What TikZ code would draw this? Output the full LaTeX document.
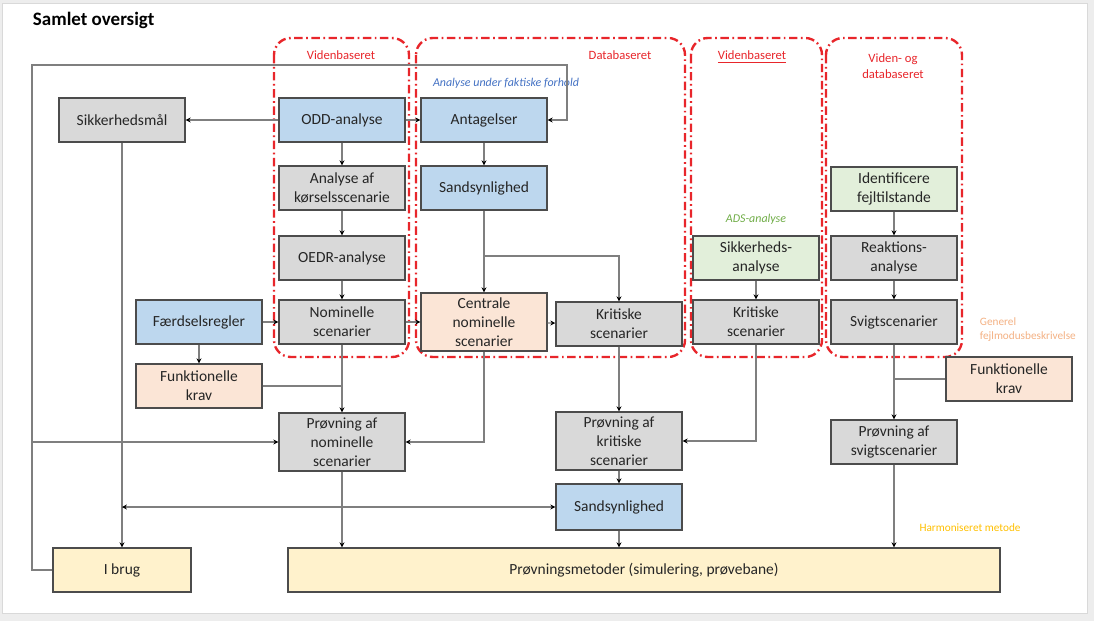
\documentclass[tikz,border=0pt]{standalone}
\usepackage{fontspec}
\setmainfont{Carlito}
\usepackage{xcolor}
\usepackage{tikz}
\usetikzlibrary{arrows.meta}

\definecolor{boxgray}{HTML}{D9D9D9}
\definecolor{boxblue}{HTML}{BDD7EE}
\definecolor{boxgreen}{HTML}{E2EFDA}
\definecolor{boxpeach}{HTML}{FBE5D6}
\definecolor{boxyellow}{HTML}{FFF2CC}
\definecolor{framered}{HTML}{E8262B}
\definecolor{linegray}{HTML}{7F7F7F}
\definecolor{noteblue}{HTML}{4472C4}
\definecolor{notegreen}{HTML}{70AD47}
\definecolor{noteorange}{HTML}{F4B183}
\definecolor{noteyellow}{HTML}{FFC000}

\tikzset{
  box/.style={draw=black!70, line width=1pt, minimum width=3.15cm,
    minimum height=1.1cm, inner sep=1pt, align=center,
    font=\fontsize{11}{13.5}\selectfont, text=black!85},
  tallbox/.style={box, minimum height=1.45cm},
  line/.style={draw=linegray, line width=0.9pt},
  frame/.style={draw=framered, line width=1.7pt, rounded corners=12pt,
    dash pattern=on 6pt off 2.5pt on 1.2pt off 2.5pt},
  lbl/.style={font=\fontsize{9}{11}\selectfont, text=framered, align=center},
  note/.style={font=\itshape\fontsize{8.5}{10}\selectfont}
}

\begin{document}
\begin{tikzpicture}[x=0.025cm, y=-0.025cm, >={Stealth[length=3.5pt,width=3.5pt,black]}]
  \useasboundingbox (0,0) rectangle (1094,621);
  \fill[black!7] (0,0) rectangle (1094,621);
  \filldraw[fill=white, draw=black!15] (2,3) rectangle (1087,613);

  \node[anchor=west, font=\bfseries\fontsize{13.5}{16}\selectfont] (title) at (28,20) {Samlet oversigt};

  % grupper
  \draw[frame] (274,38) rectangle (409,357);
  \draw[frame] (416,38) rectangle (685,357);
  \draw[frame] (691,38) rectangle (822,357);
  \draw[frame] (826,38) rectangle (962,357);
  \node[lbl] (vb1) at (341,55) {Videnbaseret};
  \node[lbl] (db) at (620,55) {Databaseret};
  \node[lbl] (vb2) at (752,57) {\underline{Videnbaseret}};
  \node[lbl] (vdb) at (893,66) {Viden- og\\databaseret};
  \node[note, text=noteblue] (faktisk) at (506,83) {Analyse under faktiske forhold};
  \node[note, text=notegreen] (ads) at (756,219) {ADS-analyse};
  \node[note, font=\fontsize{8}{10}\selectfont, text=noteorange, align=left, anchor=west] (gen) at (975,330) {Generel\\fejlmodusbeskrivelse};
  \node[note, font=\fontsize{8}{10}\selectfont, text=noteyellow] (harm) at (970,528) {Harmoniseret metode};

  % kasser
  \node[box, fill=boxgray] (sikm) at (122,120) {Sikkerhedsmål};
  \node[box, fill=boxblue] (odd) at (342,120) {ODD-analyse};
  \node[box, fill=boxblue] (ant) at (484,120) {Antagelser};
  \node[box, fill=boxgray] (anaf) at (342,188) {Analyse af\\kørselsscenarie};
  \node[box, fill=boxblue] (sand1) at (484,188) {Sandsynlighed};
  \node[box, fill=boxgray] (oedr) at (342,258) {OEDR-analyse};
  \node[box, fill=boxgray] (nom) at (342,322) {Nominelle\\scenarier};
  \node[box, fill=boxblue] (faerd) at (199,322) {Færdselsregler};
  \node[box, fill=boxpeach] (funk1) at (199,386) {Funktionelle\\krav};
  \node[tallbox, fill=boxpeach] (cen) at (484,322) {Centrale\\nominelle\\scenarier};
  \node[box, fill=boxgray] (krit1) at (619,324) {Kritiske\\scenarier};
  \node[box, fill=boxgreen] (sikana) at (756,258) {Sikkerheds-\\analyse};
  \node[box, fill=boxgray] (krit2) at (756,322) {Kritiske\\scenarier};
  \node[box, fill=boxgreen] (ident) at (894,189) {Identificere\\fejltilstande};
  \node[box, fill=boxgray] (reak) at (894,258) {Reaktions-\\analyse};
  \node[box, fill=boxgray] (svigt) at (894,322) {Svigtscenarier};
  \node[box, fill=boxpeach] (funk2) at (1009,379) {Funktionelle\\krav};
  \node[tallbox, fill=boxgray] (pnom) at (342,442) {Prøvning af\\nominelle\\scenarier};
  \node[tallbox, fill=boxgray] (pkrit) at (619,441) {Prøvning af\\kritiske\\scenarier};
  \node[box, fill=boxgray] (psvigt) at (894,442) {Prøvning af\\svigtscenarier};
  \node[box, fill=boxblue, minimum height=1.15cm] (sand2) at (619,507) {Sandsynlighed};
  \node[box, fill=boxyellow, minimum width=3.45cm] (ibrug) at (122,570) {I brug};
  \node[box, fill=boxyellow, minimum width=17.8cm] (pm) at (644,570) {Prøvningsmetoder (simulering, prøvebane)};

  % forbindelser
  \coordinate (lp1) at (32,65);
  \coordinate (lp2) at (567,65);
  \coordinate (lb) at (32,442);
  \coordinate (sl) at (122,507);
  \coordinate (sb) at (484,256);
  \foreach \a/\b in {odd/anaf, anaf/oedr, oedr/nom, ant/sand1, sand1/cen,
      ident/reak, reak/svigt, sikana/krit2, faerd/funk1, odd/sikm, odd/ant,
      faerd/nom, nom/cen, cen/krit1, nom/pnom, krit1/pkrit, pkrit/sand2,
      svigt/psvigt, sikm/ibrug}
    \draw[line,->] (\a) -- (\b);
  \draw[line,->] (ibrug.west) -| (lp1) -- (lp2) |- (ant.east);
  \draw[line,->] (lb) -- (pnom.west);
  \draw[line,<->] (sl) -- (sand2.west);
  \draw[line,->] (sb) -| (krit1);
  \draw[line] (funk1.east) -- (funk1.east -| nom.south);
  \draw[line] (funk2.west) -- (funk2.west -| svigt.south);
  \draw[line,->] (cen.south) |- (pnom.east);
  \draw[line,->] (krit2.south) |- (pkrit.east);
  \draw[line,->] (pnom.south) -- (pnom.south |- pm.north);
  \draw[line,->] (sand2.south) -- (sand2.south |- pm.north);
  \draw[line,->] (psvigt.south) -- (psvigt.south |- pm.north);
\end{tikzpicture}
\end{document}
